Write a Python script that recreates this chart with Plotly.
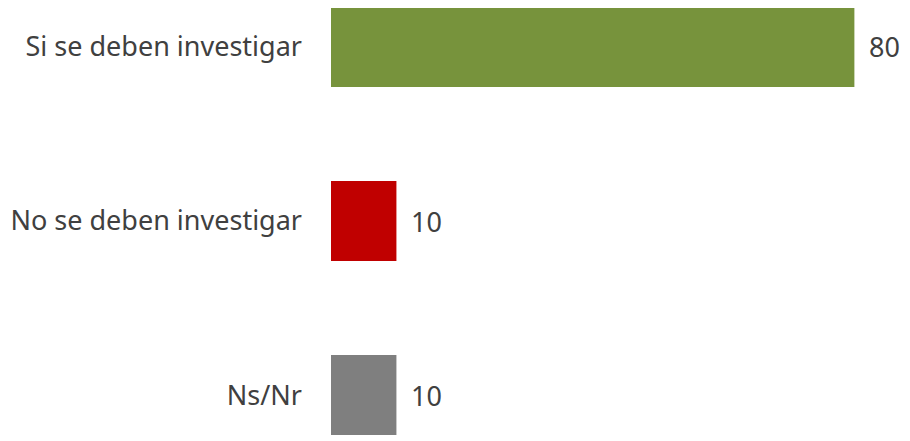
import plotly.graph_objects as go

categories = ["Si se deben investigar", "No se deben investigar", "Ns/Nr"]
values = [80, 10, 10]
colors = ["#77933C", "#C00000", "#7F7F7F"]

FONT = "Noto Sans"
TEXT_COLOR = "#404040"

fig = go.Figure()
fig.add_trace(go.Bar(
    y=list(range(len(categories))), x=values, orientation="h",
    marker=dict(color=colors, line=dict(width=0)),
    width=0.46, hoverinfo="x+y", showlegend=False,
))

# value labels to the right of each bar
for i, v in enumerate(values):
    fig.add_annotation(
        x=v, y=i, text=str(v), showarrow=False,
        xanchor="left", yanchor="middle", xshift=13,
        font=dict(family=FONT, size=27, color=TEXT_COLOR),
    )

fig.update_xaxes(range=[0, 88.5], visible=False, fixedrange=True)
fig.update_yaxes(
    range=[2.264, -0.224], tickmode="array",
    tickvals=list(range(len(categories))), ticktext=categories,
    showgrid=False, zeroline=False, showline=False, ticks="",
    ticklabelstandoff=28,
    tickfont=dict(family=FONT, size=27, color=TEXT_COLOR),
)
fig.update_layout(
    width=902, height=433,
    margin=dict(l=323, r=0, t=0, b=0, autoexpand=False),
    plot_bgcolor="white", paper_bgcolor="white",
)

fig.write_html("out.html")
